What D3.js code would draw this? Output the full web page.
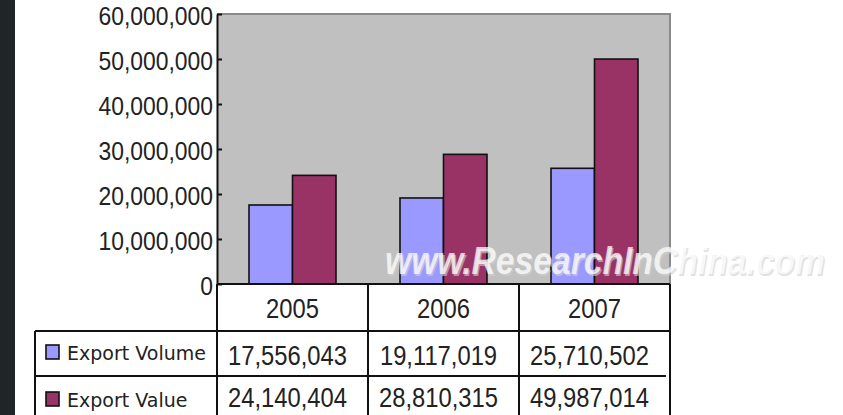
<!DOCTYPE html>
<html>
<head>
<meta charset="utf-8">
<script src="https://cdn.jsdelivr.net/npm/d3@7"></script>
<style>
  html, body { margin: 0; padding: 0; background: #fff; }
  svg { display: block; }
</style>
</head>
<body>
<svg id="chart"></svg>
<script>
// data
var years = ["2005", "2006", "2007"]
var seriesNames = ["Export Volume", "Export Value"]
var exportVolume = [17556043, 19117019, 25710502]
var exportValue = [24140404, 28810315, 49987014]
var yTicks = [0, 10000000, 20000000, 30000000, 40000000, 50000000, 60000000]

var dimensions = {
    width: 843,
    height: 415,
    margin: { top: 14, bottom: 131, right: 170, left: 217 }
}

var colors = ["#9999ff", "#993366"]
var fontFam = "'Liberation Sans', Arial, sans-serif"
var squeeze = 0.88

var svg = d3.select("#chart")
    .attr("width", dimensions.width)
    .attr("height", dimensions.height)

// dark strip on the left edge of the screenshot
svg.append("rect")
    .attr("x", 0).attr("y", 0)
    .attr("width", 15).attr("height", dimensions.height)
    .attr("fill", "#1e2628")

var plotLeft = dimensions.margin.left
var plotRight = dimensions.width - dimensions.margin.right - 3
var plotBottom = dimensions.height - dimensions.margin.bottom

var xScale = d3.scaleBand()
    .domain(years)
    .range([plotLeft, plotRight])
    .paddingInner(0)
    .paddingOuter(0)

var xSub = d3.scaleBand()
    .domain(seriesNames)
    .range([32, xScale.bandwidth() - 32])

var yScale = d3.scaleLinear()
    .domain([0, 60000000])
    .range([plotBottom, dimensions.margin.top])

// plot area
svg.append("rect")
    .attr("x", plotLeft).attr("y", yScale(60000000))
    .attr("width", plotRight - plotLeft)
    .attr("height", plotBottom - yScale(60000000))
    .attr("fill", "#c0c0c0")

svg.append("path")
    .attr("d", `M${plotLeft},${yScale(60000000)}H${plotRight}V${plotBottom}`)
    .attr("fill", "none")
    .attr("stroke", "#8a8a8a")
    .attr("stroke-width", 2)

// bars
var barData = []
years.forEach(function(yr, i) {
    barData.push({ year: yr, series: seriesNames[0], value: exportVolume[i] })
    barData.push({ year: yr, series: seriesNames[1], value: exportValue[i] })
})

svg.append("g")
    .selectAll("rect")
    .data(barData)
    .enter()
    .append("rect")
    .attr("x", d => xScale(d.year) + xSub(d.series))
    .attr("y", d => yScale(d.value))
    .attr("width", xSub.bandwidth())
    .attr("height", d => plotBottom - yScale(d.value))
    .attr("fill", d => colors[seriesNames.indexOf(d.series)])
    .attr("stroke", "#111")
    .attr("stroke-width", 1.6)

// watermark
var wm = svg.append("g")
    .attr("transform", "translate(385,274) scale(0.885,1)")
wm.append("text")
    .attr("x", 1.5).attr("y", 1.5)
    .style("font-family", fontFam)
    .style("font-size", "38px")
    .style("font-weight", "bold")
    .style("font-style", "italic")
    .attr("fill", "#d0d0d0")
    .attr("opacity", 0.6)
    .text("www.ResearchInChina.com")
wm.append("text")
    .attr("x", 0).attr("y", 0)
    .style("font-family", fontFam)
    .style("font-size", "38px")
    .style("font-weight", "bold")
    .style("font-style", "italic")
    .attr("fill", "#ffffff")
    .attr("opacity", 0.75)
    .text("www.ResearchInChina.com")

// y axis
var yAxisgen = d3.axisLeft(yScale)
    .tickValues(yTicks)
    .tickSizeInner(-5)
    .tickSizeOuter(0)
    .tickFormat(d3.format(","))

var yAxis = svg.append("g")
    .attr("transform", `translate(${plotLeft},0)`)
    .call(yAxisgen)

yAxis.select(".domain").attr("stroke", "#111").attr("stroke-width", 2)
yAxis.selectAll(".tick line").attr("stroke", "#111").attr("stroke-width", 2)
yAxis.selectAll(".tick text")
    .attr("x", 0)
    .attr("dy", null)
    .attr("transform", `translate(-4,10) scale(${squeeze},1)`)
    .attr("fill", "#222")
    .style("font-family", fontFam)
    .style("font-size", "26px")

// data table under the plot
var rowTop = [plotBottom, 331, 376, 421]
var tableLeft = 35
var table = svg.append("g")
var lineStyle = sel => sel.attr("stroke", "#111").attr("stroke-width", 2)

// horizontal rules
table.append("line").attr("x1", plotLeft).attr("x2", plotRight)
    .attr("y1", rowTop[0]).attr("y2", rowTop[0]).call(lineStyle)
table.append("line").attr("x1", tableLeft).attr("x2", plotRight)
    .attr("y1", rowTop[1]).attr("y2", rowTop[1]).call(lineStyle)
table.append("line").attr("x1", tableLeft).attr("x2", plotRight - 4)
    .attr("y1", rowTop[2]).attr("y2", rowTop[2]).call(lineStyle)

// vertical rules
var colEdges = years.map(y => xScale(y)).concat([xScale(years[years.length - 1]) + xScale.bandwidth()])
table.selectAll(".vcol")
    .data(colEdges)
    .enter()
    .append("line")
    .attr("x1", d => d).attr("x2", d => d)
    .attr("y1", rowTop[0]).attr("y2", dimensions.height)
    .call(lineStyle)
table.append("line").attr("x1", tableLeft).attr("x2", tableLeft)
    .attr("y1", rowTop[1]).attr("y2", dimensions.height).call(lineStyle)

function cellText(cx, baseline, str) {
    table.append("text")
        .attr("transform", `translate(${cx},${baseline}) scale(${squeeze},1)`)
        .attr("text-anchor", "middle")
        .attr("fill", "#222")
        .style("font-family", fontFam)
        .style("font-size", "27px")
        .text(str)
}

var fmt = d3.format(",")
years.forEach(function(yr, i) {
    var cx = xScale(yr) + xScale.bandwidth() / 2
    cellText(cx, 318, yr)
    cellText(cx - 5, 365, fmt(exportVolume[i]))
    cellText(cx - 5, 407, fmt(exportValue[i]))
})

// legend keys in the first column
var legendBase = [359, 406]
seriesNames.forEach(function(name, i) {
    table.append("rect")
        .attr("x", 46).attr("y", legendBase[i] - 14)
        .attr("width", 13).attr("height", 14)
        .attr("fill", colors[i])
        .attr("stroke", "#111")
        .attr("stroke-width", 1.6)
    table.append("text")
        .attr("x", 67).attr("y", legendBase[i] + 1)
        .attr("fill", "#222")
        .style("font-family", "'DejaVu Sans', Verdana, sans-serif")
        .style("font-size", "19px")
        .text(name)
})
</script>
</body>
</html>
